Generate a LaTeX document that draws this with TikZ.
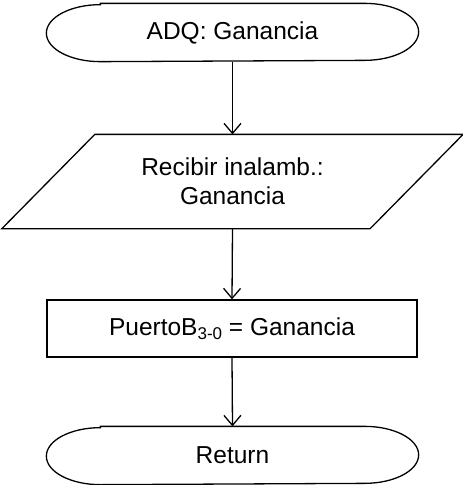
\documentclass[tikz,border=0pt]{standalone}
\usepackage{fontspec}
\setmainfont{Liberation Sans}
\usetikzlibrary{arrows.meta}
\begin{document}
\begin{tikzpicture}[x=1pt,y=-1pt,
  line width=1.3pt,
  txt/.style={font=\fontsize{24.5}{29}\selectfont, align=center, inner sep=0pt},
  flow/.style={-{Straight Barb[length=10pt,width=17pt,line width=1.3pt]}},
  box/.style={txt, draw, minimum width=370pt, minimum height=57pt}
]
\useasboundingbox (0,0) rectangle (463,485);
% top terminator
\node[txt, minimum width=371pt, minimum height=57pt] (t1) at (232.5,32.5) {ADQ: Ganancia};
\draw ([xshift=54pt]t1.north west) -- ([xshift=-54pt]t1.north east)
  arc[start angle=90,end angle=-90,x radius=54pt,y radius=28.5pt]
  -- ([xshift=54pt]t1.south west)
  arc[start angle=270,end angle=90,x radius=54pt,y radius=28.5pt] -- cycle;
% parallelogram
\node[txt, minimum width=367pt, minimum height=93pt] (p) at (232.5,181.5) {Recibir inalamb.:\\Ganancia};
\draw ([xshift=46.5pt]p.north west) -- ([xshift=46.5pt]p.north east)
  -- ([xshift=-46.5pt]p.south east) -- ([xshift=-46.5pt]p.south west) -- cycle;
% rectangle
\node[box] (r) at (232,328.5) {PuertoB\raisebox{-0.35ex}{\fontsize{17}{20}\selectfont 3-0} = Ganancia};
% bottom terminator
\node[txt, minimum width=371pt, minimum height=57pt] (t2) at (232.5,455.5) {Return};
\draw ([xshift=54pt]t2.north west) -- ([xshift=-54pt]t2.north east)
  arc[start angle=90,end angle=-90,x radius=54pt,y radius=28.5pt]
  -- ([xshift=54pt]t2.south west)
  arc[start angle=270,end angle=90,x radius=54pt,y radius=28.5pt] -- cycle;
% connectors
\draw[flow] (t1.south) -- (p.north);
\draw[flow] (p.south) -- (r.north);
\draw[flow] (r.south) -- (t2.north);
\end{tikzpicture}
\end{document}
